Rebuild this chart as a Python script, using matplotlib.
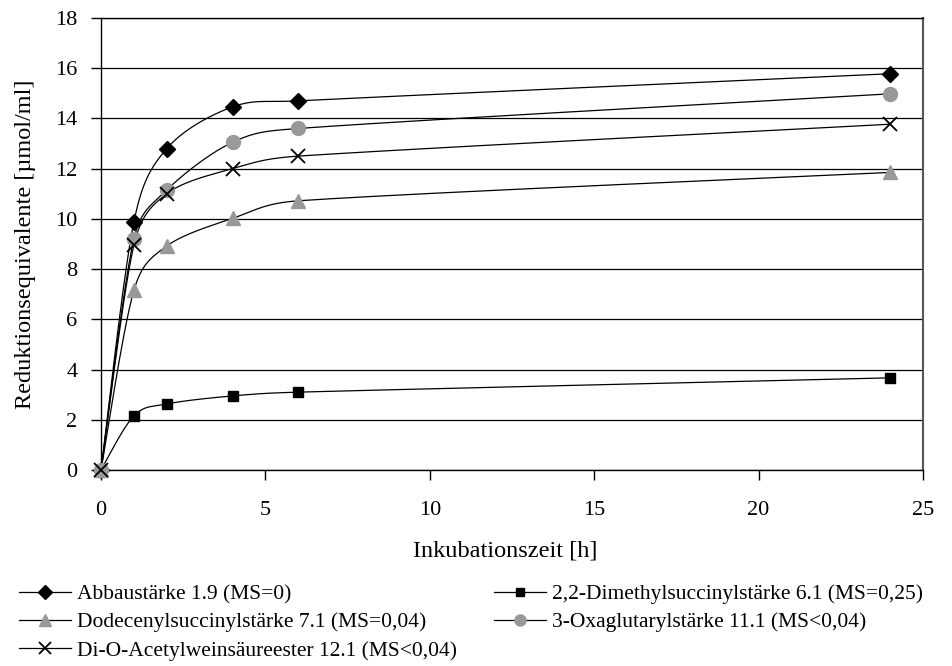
import numpy as np
import matplotlib
matplotlib.use("Agg")
import matplotlib.pyplot as plt
from matplotlib.lines import Line2D

plt.rcParams['font.family'] = ['Liberation Serif', 'DejaVu Serif']

# Incubation times [h]
hours = [0, 1, 2, 4, 6, 24]

# Reducing equivalents [µmol/ml] per starch derivative
abbau = [0.0, 9.88, 12.8, 14.46, 14.7, 15.78]
dimethyl = [0.0, 2.15, 2.63, 2.95, 3.1, 3.67]
dodecenyl = [0.0, 7.15, 8.92, 10.02, 10.72, 11.85]
oxaglutaryl = [0.0, 9.2, 11.15, 13.05, 13.6, 14.98]
diacetyl = [0.0, 8.95, 11.0, 12.0, 12.5, 13.77]

labels = [
    "Abbaustärke 1.9 (MS=0)",
    "2,2-Dimethylsuccinylstärke 6.1 (MS=0,25)",
    "Dodecenylsuccinylstärke 7.1 (MS=0,04)",
    "3-Oxaglutarylstärke 11.1 (MS<0,04)",
    "Di-O-Acetylweinsäureester 12.1 (MS<0,04)",
]

x_ticks = [0, 5, 10, 15, 20, 25]
y_ticks = [0, 2, 4, 6, 8, 10, 12, 14, 16, 18]

GRAY = "#999999"


def smooth_display(ax, xs, ys, n=60):
    """Spreadsheet-style smoothed line: cubic Bezier segments computed in
    display space, control arms of 1/6 of the neighbour chord, capped at
    half the segment length."""
    p = ax.transData.transform(np.column_stack([xs, ys]).astype(float))
    m = len(p)
    out = [p[0]]
    t = np.linspace(0, 1, n)[1:, None]
    for i in range(m - 1):
        p0 = p[i - 1] if i > 0 else p[i]
        p1 = p[i]
        p2 = p[i + 1]
        p3 = p[i + 2] if i + 2 < m else p[i + 1]
        d12 = np.hypot(*(p2 - p1))
        d02 = np.hypot(*(p2 - p0))
        d13 = np.hypot(*(p3 - p1))
        f1 = 1 / 6 if d02 / 6 < d12 / 2 else d12 / (2 * d02)
        f2 = 1 / 6 if d13 / 6 < d12 / 2 else d12 / (2 * d13)
        c1 = p1 + (p2 - p0) * f1
        c2 = p2 - (p3 - p1) * f2
        seg = ((1 - t) ** 3) * p1 + 3 * ((1 - t) ** 2) * t * c1 \
            + 3 * (1 - t) * t ** 2 * c2 + t ** 3 * p2
        out.extend(seg)
    out = ax.transData.inverted().transform(np.array(out))
    return out[:, 0], out[:, 1]


fig = plt.figure(figsize=(9.53, 6.66), dpi=100)
ax = fig.add_axes([101 / 953, 1 - 470 / 666, (923 - 101) / 953, (470 - 18) / 666])
ax.set_xlim(0, 25)
ax.set_ylim(0, 18)

series = [
    (abbau, dict(marker="D", color="black", ms=8.5)),
    (dimethyl, dict(marker="s", color="black", ms=7)),
    (dodecenyl, dict(marker="^", color=GRAY, ms=10.5)),
    (oxaglutaryl, dict(marker="o", color=GRAY, ms=10)),
    (diacetyl, dict(marker="x", color="black", ms=10, mew=1.3)),
]

handles = []
for vals, st in series:
    sx, sy = smooth_display(ax, hours, vals)
    ax.plot(sx, sy, color="black", lw=0.9, zorder=3)
    mk = dict(marker=st["marker"], markersize=st["ms"],
              markerfacecolor=st["color"], markeredgecolor=st["color"],
              markeredgewidth=st.get("mew", 1.0), linestyle="none")
    ax.plot(hours, vals, zorder=4, clip_on=False, **mk)
    h = Line2D([0], [0], color="black", lw=0.9, marker=st["marker"],
               markersize=st["ms"] * 0.8, markerfacecolor=st["color"],
               markeredgecolor=st["color"], markeredgewidth=st.get("mew", 1.0))
    handles.append(h)

ax.set_xticks(x_ticks)
ax.set_yticks(y_ticks)
ax.yaxis.grid(True, color="black", lw=0.9)
ax.set_axisbelow(True)
for s in ax.spines.values():
    s.set_color("black")
    s.set_linewidth(1.0)
ax.spines["right"].set_color("#555555")
ax.spines["right"].set_linewidth(1.5)
ax.tick_params(axis="both", direction="out", length=7, width=1.0,
               labelsize=16, colors="black")
ax.tick_params(axis="x", pad=15)
ax.tick_params(axis="y", pad=10)

ax.set_xlabel("Inkubationszeit [h]", fontsize=17.5, labelpad=16)
ax.xaxis.set_label_coords(0.492, -0.155)
ax.set_ylabel("Reduktionsequivalente [µmol/ml]", fontsize=17.5, labelpad=14)

leg_kw = dict(frameon=False, fontsize=15.5, handlelength=2.4,
              handletextpad=0.3, labelspacing=0.38, borderaxespad=0,
              borderpad=0, loc="upper left")
fig.legend([handles[0], handles[2], handles[4]],
           [labels[0], labels[2], labels[4]],
           bbox_to_anchor=(19 / 953, 1 - 584 / 666), **leg_kw)
fig.legend([handles[1], handles[3]], [labels[1], labels[3]],
           bbox_to_anchor=(494 / 953, 1 - 584 / 666), **leg_kw)

fig.savefig("out.png", dpi=100)
